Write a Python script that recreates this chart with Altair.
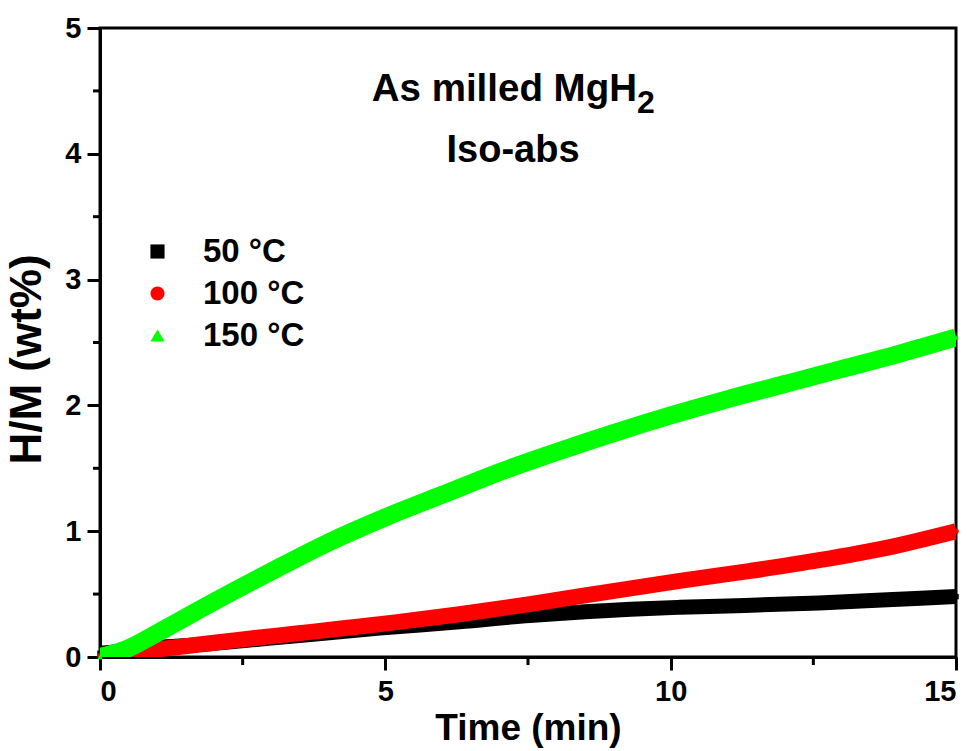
import altair as alt
import pandas as pd

series_names = ["50 °C", "100 °C", "150 °C"]
series_colors = ["#000000", "#ff0000", "#00ff00"]
series_shapes = ["square", "circle", "triangle-up"]

t_50 = [0, 0.5, 1.0, 1.66, 3.0, 4.9, 6.3, 7.53, 8.5, 9.3, 10.16, 11.3, 12.6, 13.8, 15.0]
h_50 = [0.03, 0.05, 0.075, 0.095, 0.15, 0.23, 0.28, 0.33, 0.36, 0.38, 0.395, 0.41, 0.43, 0.455, 0.48]

t_100 = [0, 0.4, 1.0, 1.66, 2.5, 3.4, 4.3, 5.17, 6.3, 7.53, 8.5, 9.3, 10.16, 11.4, 12.6, 13.8, 15.0]
h_100 = [0.01, 0.03, 0.06, 0.095, 0.14, 0.185, 0.23, 0.275, 0.34, 0.42, 0.49, 0.545, 0.605, 0.685, 0.77, 0.87, 1.00]

t_150 = [0, 0.5, 1, 2, 3, 4, 5, 6, 7, 8, 9, 10, 11, 12, 13, 14, 15]
h_150 = [0.0, 0.07, 0.19, 0.44, 0.68, 0.91, 1.11, 1.29, 1.47, 1.63, 1.78, 1.92, 2.05, 2.17, 2.29, 2.41, 2.54]

x_ticks = [0, 5, 10, 15]
x_minor = [2.5, 7.5, 12.5]
y_ticks = [0, 1, 2, 3, 4, 5]
y_minor = [0.5, 1.5, 2.5, 3.5, 4.5]

FONT = "Liberation Sans"

frames = []
for name, ts, hs in [(series_names[0], t_50, h_50), (series_names[1], t_100, h_100), (series_names[2], t_150, h_150)]:
    frames.append(pd.DataFrame({"t": ts, "h": hs, "series": name}))
df = pd.concat(frames, ignore_index=True)

x_scale = alt.Scale(domain=[0, 15], nice=False, zero=False)
y_scale = alt.Scale(domain=[0, 5], nice=False, zero=False)

x_axis = alt.Axis(values=x_ticks, title="Time (min)", format="d", labelPadding=7, titlePadding=4)
y_axis = alt.Axis(values=y_ticks, title="H/M (wt%)", format="d", labelPadding=6, titlePadding=15,
                  titleFontSize=44, titleY=331)

legend_kw = dict(title=None, orient="none", legendX=41, legendY=207,
                 labelFont=FONT, labelFontSize=33, labelFontWeight="bold",
                 labelColor="black", symbolSize=200, symbolStrokeWidth=0,
                 labelOffset=29, rowPadding=8)

points = alt.Chart(df).mark_point(filled=True, size=30, opacity=1).encode(
    x=alt.X("t:Q", scale=x_scale, axis=x_axis),
    y=alt.Y("h:Q", scale=y_scale, axis=y_axis),
    color=alt.Color("series:N", scale=alt.Scale(domain=series_names, range=series_colors),
                    legend=alt.Legend(**legend_kw)),
    shape=alt.Shape("series:N", scale=alt.Scale(domain=series_names, range=series_shapes),
                    legend=alt.Legend(**legend_kw)),
)

def line_layer(name, color, width):
    return alt.Chart(df).transform_filter(alt.datum.series == name).mark_line(
        color=color, strokeWidth=width, clip=True, interpolate="monotone", strokeCap="butt"
    ).encode(
        x=alt.X("t:Q", scale=x_scale),
        y=alt.Y("h:Q", scale=y_scale),
        order="t:Q",
    )

l50 = line_layer(series_names[0], series_colors[0], 15)
l100 = line_layer(series_names[1], series_colors[1], 16)
l150 = line_layer(series_names[2], series_colors[2], 18)

xminor = alt.Chart(pd.DataFrame({"v": x_minor})).mark_rule(color="black", strokeWidth=3).encode(
    x=alt.X("v:Q", scale=x_scale), y=alt.value(629), y2=alt.value(637))
yminor = alt.Chart(pd.DataFrame({"v": y_minor})).mark_rule(color="black", strokeWidth=3).encode(
    y=alt.Y("v:Q", scale=y_scale), x=alt.value(0), x2=alt.value(-7))

one = alt.Data(values=[{"a": 1}])
title1 = alt.Chart(one).mark_text(text="As milled MgH", font=FONT, fontSize=38.5, fontWeight="bold",
                                  align="right", baseline="alphabetic", color="black").encode(
    x=alt.value(537), y=alt.value(73))
title_sub = alt.Chart(one).mark_text(text="2", font=FONT, fontSize=32, fontWeight="bold",
                                     align="left", baseline="alphabetic", color="black").encode(
    x=alt.value(537), y=alt.value(85))
title2 = alt.Chart(one).mark_text(text="Iso-abs", font=FONT, fontSize=38, fontWeight="bold",
                                  align="center", baseline="alphabetic", color="black").encode(
    x=alt.value(413), y=alt.value(134))

chart = alt.layer(points, l50, l100, l150, xminor, yminor, title1, title_sub, title2).properties(
    width=856, height=629,
    autosize=alt.AutoSizeParams(type="none"),
    padding={"left": 100, "top": 28, "right": 20, "bottom": 94},
    background="white",
).configure_view(stroke="black", strokeWidth=3).configure_axis(
    grid=False, domainColor="black", domainWidth=3, tickColor="black", tickWidth=3, tickSize=13,
    labelFont=FONT, labelFontSize=29, labelFontWeight="bold", labelColor="black",
    titleFont=FONT, titleFontSize=37, titleFontWeight="bold", titleColor="black",
)

chart.save("out.html", embed_options={"renderer": "svg", "actions": False})
